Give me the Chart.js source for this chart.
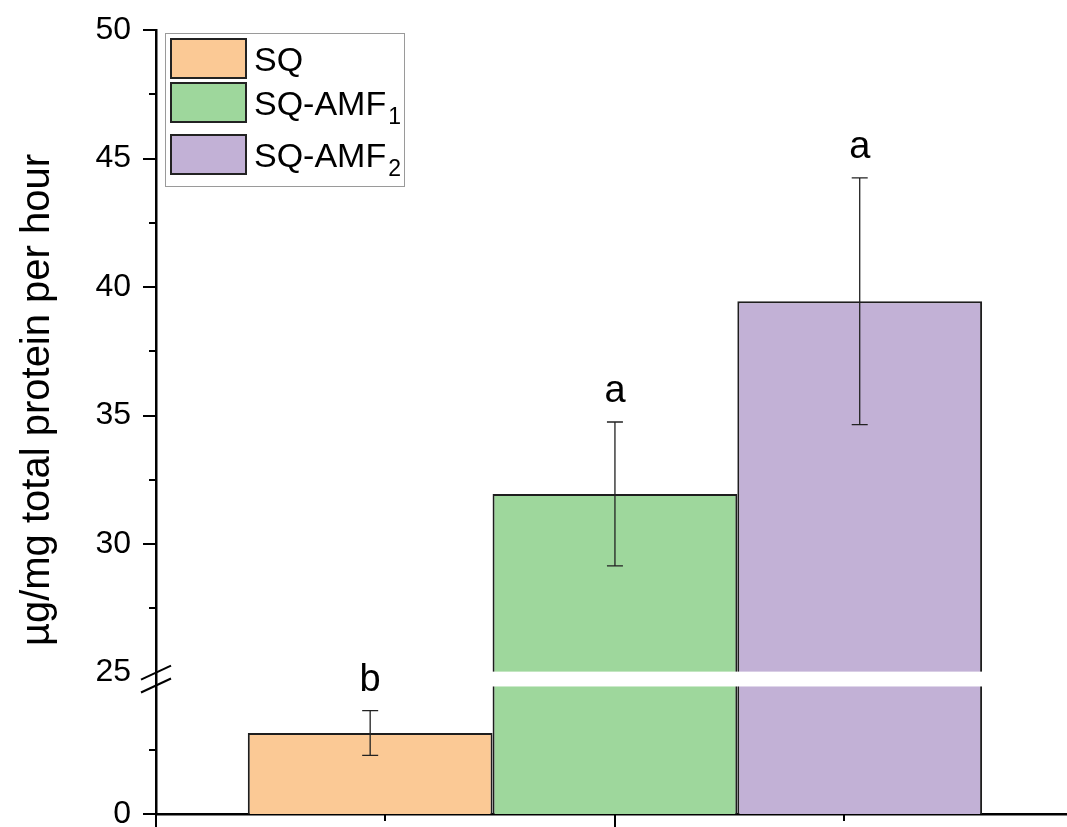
<!DOCTYPE html>
<html>
<head>
<meta charset="utf-8">
<script src="https://cdn.jsdelivr.net/npm/chart.js@4/dist/chart.umd.min.js"></script>
<style>
  html, body { margin: 0; padding: 0; background: #fff; overflow: hidden; }
  #wrap { width: 1067px; height: 827px; }
</style>
</head>
<body>
<div id="wrap"><canvas id="chart" width="1067" height="827"></canvas></div>
<script>
// data
const groups = ['SQ', 'SQ-AMF₁', 'SQ-AMF₂'];
const means = [3.15, 31.95, 39.45];
const errors = [0.87, 2.8, 4.8];
const letters = ['b', 'a', 'a'];
const fills = ['#fbc995', '#9ed79c', '#c2b1d6'];
const yTitle = 'µg/mg total protein per hour';

// y axis (broken between 5 and 25)
const yMajorTicks = [0, 25, 30, 35, 40, 45, 50];
const yMinorTicks = [2.5, 27.5, 32.5, 37.5, 42.5, 47.5];
const xMajorTicks = [0, 2, 4];
const xMinorTicks = [1, 3];
const groupX = 2;

const BREAK_LO = 5, BREAK_HI = 25, GAP = 0.5;
const toDisplay = v => v <= BREAK_LO ? v : v - (BREAK_HI - BREAK_LO) + GAP;
const toReal = d => d <= BREAK_LO + GAP / 2 ? d : d + (BREAK_HI - BREAK_LO) - GAP;

const FONT = "'Liberation Sans', Arial, sans-serif";

const axisDecor = {
  id: 'axisDecor',
  afterDatasetsDraw(chart) {
    const ctx = chart.ctx, area = chart.chartArea;
    const y = chart.scales.y;
    ctx.save();
    // white band for the axis break
    const yb1 = y.getPixelForValue(toDisplay(BREAK_HI));
    const yb0 = y.getPixelForValue(BREAK_LO);
    ctx.fillStyle = '#fff';
    ctx.fillRect(area.left + 3, yb1 - 1, area.right - area.left, yb0 - yb1 + 2);

    // error bars and letters
    chart.data.datasets.forEach((ds, i) => {
      const bar = chart.getDatasetMeta(i).data[0];
      const top = y.getPixelForValue(toDisplay(means[i] + errors[i]));
      const bot = y.getPixelForValue(toDisplay(means[i] - errors[i]));
      ctx.strokeStyle = '#222';
      ctx.lineWidth = 1.3;
      ctx.beginPath();
      ctx.moveTo(bar.x, top); ctx.lineTo(bar.x, bot);
      ctx.moveTo(bar.x - 8, top); ctx.lineTo(bar.x + 8, top);
      ctx.moveTo(bar.x - 8, bot); ctx.lineTo(bar.x + 8, bot);
      ctx.stroke();
      ctx.fillStyle = '#000';
      ctx.font = '38px ' + FONT;
      ctx.textAlign = 'center';
      ctx.textBaseline = 'alphabetic';
      ctx.fillText(letters[i], bar.x, top - 20);
    });
    ctx.restore();
  },
  afterDraw(chart) {
    const ctx = chart.ctx, area = chart.chartArea;
    const y = chart.scales.y, x = chart.scales.x;
    ctx.save();
    ctx.strokeStyle = '#000';
    ctx.lineWidth = 2;
    ctx.beginPath();
    yMajorTicks.filter(v => v !== BREAK_HI).forEach(v => {
      const p = Math.round(y.getPixelForValue(toDisplay(v)));
      ctx.moveTo(area.left - 13, p); ctx.lineTo(area.left, p);
    });
    yMinorTicks.forEach(v => {
      const p = Math.round(y.getPixelForValue(toDisplay(v)));
      ctx.moveTo(area.left - 7, p); ctx.lineTo(area.left, p);
    });
    xMajorTicks.forEach(v => {
      const p = Math.round(x.getPixelForValue(v));
      ctx.moveTo(p, area.bottom); ctx.lineTo(p, area.bottom + 13);
    });
    xMinorTicks.forEach(v => {
      const p = Math.round(x.getPixelForValue(v));
      ctx.moveTo(p, area.bottom); ctx.lineTo(p, area.bottom + 7);
    });
    ctx.stroke();

    // break marks on the y axis
    [toDisplay(BREAK_HI), BREAK_LO].forEach(d => {
      const p = y.getPixelForValue(d);
      ctx.beginPath();
      ctx.moveTo(area.left - 15, p + 7);
      ctx.lineTo(area.left + 15, p - 7);
      ctx.stroke();
    });

    // y axis title, centred a little above the axis middle like the original
    ctx.save();
    ctx.translate(38, (area.top + area.bottom) / 2 - 22);
    ctx.rotate(-Math.PI / 2);
    ctx.fillStyle = '#000';
    ctx.font = '40px ' + FONT;
    ctx.textAlign = 'center';
    ctx.textBaseline = 'middle';
    ctx.fillText(yTitle, 0, 0);
    ctx.restore();

    // legend
    const bx = area.left + 9, by = area.top + 3, bw = 239, bh = 153;
    ctx.lineWidth = 1;
    ctx.strokeStyle = '#9a9a9a';
    ctx.strokeRect(bx + 0.5, by + 0.5, bw, bh);
    const rowTop = [6, 50, 102];
    groups.forEach((g, i) => {
      const sy = by + rowTop[i];
      ctx.fillStyle = fills[i];
      ctx.fillRect(bx + 6, sy, 75, 39);
      ctx.strokeStyle = '#222';
      ctx.lineWidth = 2;
      ctx.strokeRect(bx + 6, sy, 75, 39);
      const m = g.match(/^(.*?)([₀-₉]?)$/);
      ctx.fillStyle = '#000';
      ctx.textAlign = 'left';
      ctx.textBaseline = 'alphabetic';
      ctx.font = '34px ' + FONT;
      const base = sy + 32;
      ctx.fillText(m[1], bx + 89, base);
      if (m[2]) {
        const w = ctx.measureText(m[1]).width;
        ctx.font = '23px ' + FONT;
        ctx.fillText(String(m[2].charCodeAt(0) - 0x2080), bx + 91 + w, base + 9);
      }
    });
    ctx.restore();
  }
};

new Chart(document.getElementById('chart'), {
  type: 'bar',
  data: {
    datasets: groups.map((g, i) => ({
      label: g,
      data: [{ x: groupX, y: toDisplay(means[i]) }],
      backgroundColor: fills[i],
      borderColor: '#1e1e1e',
      borderWidth: 2,
      categoryPercentage: 3.2,
      barPercentage: 1
    }))
  },
  options: {
    responsive: false,
    devicePixelRatio: 1,
    animation: false,
    layout: { padding: { top: 30, left: 0, right: 0, bottom: 0 } },
    plugins: { legend: { display: false }, tooltip: { enabled: false } },
    scales: {
      x: {
        type: 'linear',
        offset: false,
        min: 0,
        max: 3.97,
        grid: { display: false, drawTicks: false, offset: false },
        border: { display: true, color: '#000', width: 2.5 },
        ticks: { display: false },
        afterBuildTicks: s => { s.ticks = [...xMajorTicks, ...xMinorTicks].filter(v => v <= s.max).sort((a, b) => a - b).map(v => ({ value: v })); },
        afterFit: s => { s.height = 13; s.paddingLeft = 0; s.paddingRight = 0; }
      },
      y: {
        type: 'linear',
        min: 0,
        max: toDisplay(50),
        grid: { display: false, drawTicks: false },
        border: { display: true, color: '#000', width: 2.5 },
        afterBuildTicks: s => { s.ticks = [...yMajorTicks, ...yMinorTicks].map(toDisplay).sort((a, b) => a - b).map(v => ({ value: v })); },
        afterFit: s => { s.width = 156; s.paddingTop = 0; s.paddingBottom = 0; },
        ticks: {
          autoSkip: false,
          padding: 25,
          color: '#000',
          font: { family: FONT, size: 32 },
          callback: v => {
            const r = Math.round(toReal(v) * 10) / 10;
            return yMajorTicks.includes(r) ? String(r) : '';
          }
        },
        title: { display: false }
      }
    }
  },
  plugins: [axisDecor]
});
</script>
</body>
</html>
